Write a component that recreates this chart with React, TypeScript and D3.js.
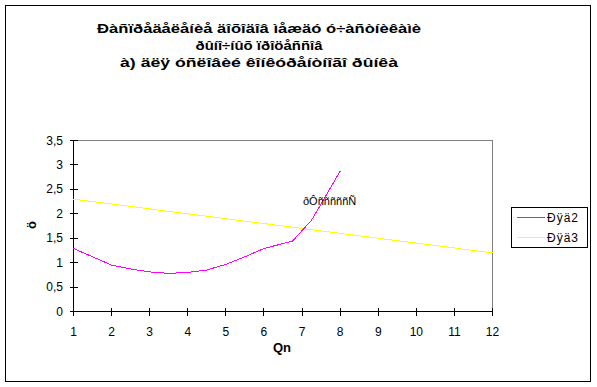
import React from "react";
import * as d3 from "d3";

const titleLines = [
  "Ðàñïðåäåëåíèå äîõîäîâ ìåæäó ó÷àñòíèêàìè",
  "ðûíî÷íûõ ïðîöåññîâ",
  "à) äëÿ óñëîâèé êîíêóðåíòíîãî ðûíêà",
];
const titleWidths = [324, 127, 278];
const xTicks = [1, 2, 3, 4, 5, 6, 7, 8, 9, 10, 11, 12];
const yTicks = [0, 0.5, 1, 1.5, 2, 2.5, 3, 3.5];
const yTickLabels = ["0", "0,5", "1", "1,5", "2", "2,5", "3", "3,5"];

const series2X = [1, 2, 2.5, 3, 3.5, 4, 4.5, 5, 5.5, 6, 6.75, 7.25, 8];
const series2Y = [1.29, 0.95, 0.87, 0.81, 0.78, 0.8, 0.85, 0.965, 1.12, 1.29, 1.44, 1.87, 2.87];
const series3X = [1, 2, 3, 4, 5, 6, 7, 8, 9, 10, 11, 12];
const series3Y = [2.3, 2.2, 2.1, 2.0, 1.9, 1.8, 1.7, 1.6, 1.5, 1.4, 1.3, 1.2];
const seriesNames = ["Ðÿä2", "Ðÿä3"];
const seriesColors = ["#FF00FF", "#FFFF00"];
const annotation = "ðÔñññññÑ";
const xTitle = "Qn";
const yTitle = "ö";

export default function App() {
  const W = 597, H = 387;
  const x = d3.scaleLinear().domain([1, 12]).range([73.5, 492.5]);
  const y = d3.scaleLinear().domain([0, 3.5]).range([311.5, 140.5]);
  const line = d3
    .line<[number, number]>()
    .x((d) => x(d[0]))
    .y((d) => y(d[1]));
  const s2 = series2X.map((v, i) => [v, series2Y[i]] as [number, number]);
  const s3 = series3X.map((v, i) => [v, series3Y[i]] as [number, number]);
  const font = "'Liberation Sans', Arial, sans-serif";

  return (
    <svg
      width={W}
      height={H}
      style={{ position: "absolute", left: 0, top: 0, background: "#fff" }}
      fontFamily={font}
    >
      <rect x={0} y={0} width={W} height={H} fill="#fff" />
      <rect x={5.5} y={5.5} width={585} height={376} fill="#fff" stroke="#000" strokeWidth={1} />
      {titleLines.map((t, i) => (
        <text
          key={i}
          x={259}
          y={32.5 + i * 17}
          textAnchor="middle"
          fontSize={13.5}
          fontWeight="bold"
          fill="#000"
          textLength={titleWidths[i]}
          lengthAdjust="spacingAndGlyphs"
        >
          {t}
        </text>
      ))}
      {/* plot border */}
      <path
        d={`M${x(1)},${y(3.5)}H${x(12)}V${y(0)}`}
        fill="none"
        stroke="#808080"
        strokeWidth={1}
        shapeRendering="crispEdges"
      />
      {/* axes */}
      <line x1={x(1)} x2={x(1)} y1={y(3.5)} y2={y(0)} stroke="#000" shapeRendering="crispEdges" />
      <line x1={x(1)} x2={x(12)} y1={y(0)} y2={y(0)} stroke="#000" shapeRendering="crispEdges" />
      {yTicks.map((v, i) => (
        <g key={"y" + i}>
          <line x1={x(1) - 4} x2={x(1) + 4} y1={y(v)} y2={y(v)} stroke="#000" shapeRendering="crispEdges" />
          <text x={63} y={y(v) + 4} textAnchor="end" fontSize={12} fill="#000">
            {yTickLabels[i]}
          </text>
        </g>
      ))}
      {xTicks.map((v, i) => (
        <g key={"x" + i}>
          <line x1={x(v)} x2={x(v)} y1={y(0) - 4} y2={y(0) + 4} stroke="#000" shapeRendering="crispEdges" />
          <text x={x(v)} y={335.5} textAnchor="middle" fontSize={12} fill="#000">
            {String(v)}
          </text>
        </g>
      ))}
      <text x={282} y={351.5} textAnchor="middle" fontSize={13} fontWeight="bold" fill="#000">
        {xTitle}
      </text>
      <text
        transform={`translate(35.5,225) rotate(-90)`}
        textAnchor="middle"
        fontSize={13}
        fontWeight="bold"
        fill="#000"
      >
        {yTitle}
      </text>
      {/* series */}
      <path d={line(s3) || ""} fill="none" stroke={seriesColors[1]} strokeWidth={1} shapeRendering="crispEdges" />
      <path d={line(s2) || ""} fill="none" stroke={seriesColors[0]} strokeWidth={1} shapeRendering="crispEdges" />
      <text x={303} y={205} fontSize={11} fill="#000">
        {annotation}
      </text>
      {/* legend */}
      <rect x={511.5} y={207.5} width={76} height={40} fill="#fff" stroke="#000" shapeRendering="crispEdges" />
      {seriesNames.map((n, i) => (
        <g key={n}>
          <line
            x1={517}
            x2={545}
            y1={217.5 + i * 20}
            y2={217.5 + i * 20}
            stroke={seriesColors[i]}
            shapeRendering="crispEdges"
          />
          <text x={547} y={221.5 + i * 20} fontSize={12} fill="#000" textLength={31} lengthAdjust="spacing">
            {n}
          </text>
        </g>
      ))}
    </svg>
  );
}
